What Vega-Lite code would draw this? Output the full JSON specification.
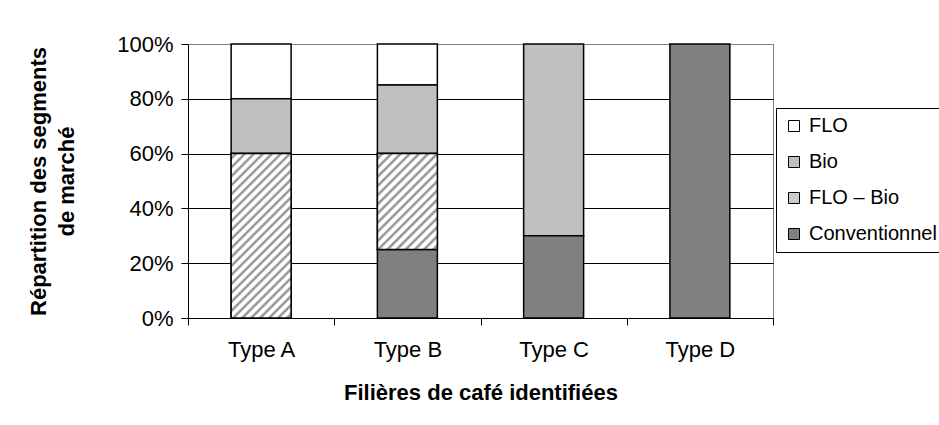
{
  "$schema": "https://vega.github.io/schema/vega-lite/v6.json",
  "width": 585,
  "height": 274,
  "autosize": {"type": "none"},
  "padding": {"left": 188, "top": 44, "right": 166, "bottom": 107},
  "background": "white",
  "data": {
    "values": [
      {"type": "Type A", "seg": "FLO", "v": 0.2, "order": 4},
      {"type": "Type A", "seg": "Bio", "v": 0.2, "order": 3},
      {"type": "Type A", "seg": "FLO – Bio", "v": 0.6, "order": 2},
      {"type": "Type B", "seg": "FLO", "v": 0.15, "order": 4},
      {"type": "Type B", "seg": "Bio", "v": 0.25, "order": 3},
      {"type": "Type B", "seg": "FLO – Bio", "v": 0.35, "order": 2},
      {"type": "Type B", "seg": "Conventionnel", "v": 0.25, "order": 1},
      {"type": "Type C", "seg": "Bio", "v": 0.7, "order": 3},
      {"type": "Type C", "seg": "Conventionnel", "v": 0.3, "order": 1},
      {"type": "Type D", "seg": "Conventionnel", "v": 1.0, "order": 1}
    ]
  },
  "transform": [
    {"stack": "v", "groupby": ["type"], "sort": [{"field": "order", "order": "ascending"}], "as": ["y0", "y1"]}
  ],
  "encoding": {
    "x": {
      "field": "type", "type": "nominal",
      "scale": {"paddingInner": 0, "paddingOuter": 0},
      "axis": {
        "tickBand": "extent", "tickSize": 7, "labelPadding": 14, "labelAngle": 0,
        "title": "Filières de café identifiées", "titlePadding": 22, "grid": false
      }
    },
    "y": {
      "field": "y1", "type": "quantitative",
      "scale": {"domain": [0, 1], "nice": false},
      "axis": {
        "values": [0, 0.2, 0.4, 0.6, 0.8, 1], "format": ".0%", "grid": true,
        "gridColor": {"condition": {"test": "datum.value === 1", "value": "#808080"}, "value": "black"},
        "tickSize": 7, "labelPadding": 8,
        "title": ["Répartition des segments", "de marché"], "titlePadding": 38, "titleLineHeight": 28
      }
    },
    "y2": {"field": "y0"}
  },
  "layer": [
    {
      "mark": {"type": "bar", "width": {"band": 0.41}, "stroke": "black", "strokeWidth": 1.5},
      "encoding": {
        "color": {
          "field": "seg", "type": "nominal",
          "scale": {"domain": ["FLO", "Bio", "FLO – Bio", "Conventionnel"], "range": ["#ffffff", "#c0c0c0", "#cccccc", "#808080"]},
          "legend": {
            "title": null, "orient": "none", "legendX": 588, "legendY": 64,
            "strokeColor": "black", "fillColor": "white", "padding": 8,
            "symbolType": "square", "symbolSize": 121, "symbolStrokeColor": "black", "symbolStrokeWidth": 1,
            "labelFontSize": 20, "labelFont": "Liberation Sans", "labelColor": "black", "labelOffset": 5, "rowPadding": 16
          }
        }
      }
    },
    {
      "transform": [{"filter": "datum.type === 'Type A' && datum.seg === 'FLO – Bio'"}],
      "mark": {
        "type": "bar", "width": {"band": 0.41}, "stroke": "black", "strokeWidth": 1.5,
        "fill": {"gradient": "linear", "x1": 0, "y1": 0, "x2": 0.439, "y2": 1.2045, "stops": [
          {"offset": 0, "color": "#ffffff"},
          {"offset": 0.010, "color": "#ffffff"}, {"offset": 0.018, "color": "#999999"}, {"offset": 0.026, "color": "#999999"}, {"offset": 0.034, "color": "#ffffff"},
          {"offset": 0.050, "color": "#ffffff"}, {"offset": 0.058, "color": "#999999"}, {"offset": 0.066, "color": "#999999"}, {"offset": 0.074, "color": "#ffffff"},
          {"offset": 0.090, "color": "#ffffff"}, {"offset": 0.098, "color": "#999999"}, {"offset": 0.106, "color": "#999999"}, {"offset": 0.114, "color": "#ffffff"},
          {"offset": 0.130, "color": "#ffffff"}, {"offset": 0.138, "color": "#999999"}, {"offset": 0.146, "color": "#999999"}, {"offset": 0.154, "color": "#ffffff"},
          {"offset": 0.170, "color": "#ffffff"}, {"offset": 0.178, "color": "#999999"}, {"offset": 0.186, "color": "#999999"}, {"offset": 0.194, "color": "#ffffff"},
          {"offset": 0.210, "color": "#ffffff"}, {"offset": 0.218, "color": "#999999"}, {"offset": 0.226, "color": "#999999"}, {"offset": 0.234, "color": "#ffffff"},
          {"offset": 0.250, "color": "#ffffff"}, {"offset": 0.258, "color": "#999999"}, {"offset": 0.266, "color": "#999999"}, {"offset": 0.274, "color": "#ffffff"},
          {"offset": 0.290, "color": "#ffffff"}, {"offset": 0.298, "color": "#999999"}, {"offset": 0.306, "color": "#999999"}, {"offset": 0.314, "color": "#ffffff"},
          {"offset": 0.330, "color": "#ffffff"}, {"offset": 0.338, "color": "#999999"}, {"offset": 0.346, "color": "#999999"}, {"offset": 0.354, "color": "#ffffff"},
          {"offset": 0.370, "color": "#ffffff"}, {"offset": 0.378, "color": "#999999"}, {"offset": 0.386, "color": "#999999"}, {"offset": 0.394, "color": "#ffffff"},
          {"offset": 0.410, "color": "#ffffff"}, {"offset": 0.418, "color": "#999999"}, {"offset": 0.426, "color": "#999999"}, {"offset": 0.434, "color": "#ffffff"},
          {"offset": 0.450, "color": "#ffffff"}, {"offset": 0.458, "color": "#999999"}, {"offset": 0.466, "color": "#999999"}, {"offset": 0.474, "color": "#ffffff"},
          {"offset": 0.490, "color": "#ffffff"}, {"offset": 0.498, "color": "#999999"}, {"offset": 0.506, "color": "#999999"}, {"offset": 0.514, "color": "#ffffff"},
          {"offset": 0.530, "color": "#ffffff"}, {"offset": 0.538, "color": "#999999"}, {"offset": 0.546, "color": "#999999"}, {"offset": 0.554, "color": "#ffffff"},
          {"offset": 0.570, "color": "#ffffff"}, {"offset": 0.578, "color": "#999999"}, {"offset": 0.586, "color": "#999999"}, {"offset": 0.594, "color": "#ffffff"},
          {"offset": 0.610, "color": "#ffffff"}, {"offset": 0.618, "color": "#999999"}, {"offset": 0.626, "color": "#999999"}, {"offset": 0.634, "color": "#ffffff"},
          {"offset": 0.650, "color": "#ffffff"}, {"offset": 0.658, "color": "#999999"}, {"offset": 0.666, "color": "#999999"}, {"offset": 0.674, "color": "#ffffff"},
          {"offset": 0.690, "color": "#ffffff"}, {"offset": 0.698, "color": "#999999"}, {"offset": 0.706, "color": "#999999"}, {"offset": 0.714, "color": "#ffffff"},
          {"offset": 0.730, "color": "#ffffff"}, {"offset": 0.738, "color": "#999999"}, {"offset": 0.746, "color": "#999999"}, {"offset": 0.754, "color": "#ffffff"},
          {"offset": 0.770, "color": "#ffffff"}, {"offset": 0.778, "color": "#999999"}, {"offset": 0.786, "color": "#999999"}, {"offset": 0.794, "color": "#ffffff"},
          {"offset": 0.810, "color": "#ffffff"}, {"offset": 0.818, "color": "#999999"}, {"offset": 0.826, "color": "#999999"}, {"offset": 0.834, "color": "#ffffff"},
          {"offset": 0.850, "color": "#ffffff"}, {"offset": 0.858, "color": "#999999"}, {"offset": 0.866, "color": "#999999"}, {"offset": 0.874, "color": "#ffffff"},
          {"offset": 0.890, "color": "#ffffff"}, {"offset": 0.898, "color": "#999999"}, {"offset": 0.906, "color": "#999999"}, {"offset": 0.914, "color": "#ffffff"},
          {"offset": 0.930, "color": "#ffffff"}, {"offset": 0.938, "color": "#999999"}, {"offset": 0.946, "color": "#999999"}, {"offset": 0.954, "color": "#ffffff"},
          {"offset": 0.970, "color": "#ffffff"}, {"offset": 0.978, "color": "#999999"}, {"offset": 0.986, "color": "#999999"}, {"offset": 0.994, "color": "#ffffff"},
          {"offset": 1, "color": "#ffffff"}
        ]}
      }
    },
    {
      "transform": [{"filter": "datum.type === 'Type B' && datum.seg === 'FLO – Bio'"}],
      "mark": {
        "type": "bar", "width": {"band": 0.41}, "stroke": "black", "strokeWidth": 1.5,
        "fill": {"gradient": "linear", "x1": 0, "y1": 0, "x2": 0.731, "y2": 1.1683, "stops": [
          {"offset": 0, "color": "#ffffff"},
          {"offset": 0.0147, "color": "#ffffff"}, {"offset": 0.0265, "color": "#999999"}, {"offset": 0.0382, "color": "#999999"}, {"offset": 0.0500, "color": "#ffffff"},
          {"offset": 0.0735, "color": "#ffffff"}, {"offset": 0.0853, "color": "#999999"}, {"offset": 0.0970, "color": "#999999"}, {"offset": 0.1088, "color": "#ffffff"},
          {"offset": 0.1323, "color": "#ffffff"}, {"offset": 0.1441, "color": "#999999"}, {"offset": 0.1558, "color": "#999999"}, {"offset": 0.1676, "color": "#ffffff"},
          {"offset": 0.1912, "color": "#ffffff"}, {"offset": 0.2030, "color": "#999999"}, {"offset": 0.2147, "color": "#999999"}, {"offset": 0.2265, "color": "#ffffff"},
          {"offset": 0.2500, "color": "#ffffff"}, {"offset": 0.2618, "color": "#999999"}, {"offset": 0.2735, "color": "#999999"}, {"offset": 0.2853, "color": "#ffffff"},
          {"offset": 0.3088, "color": "#ffffff"}, {"offset": 0.3206, "color": "#999999"}, {"offset": 0.3323, "color": "#999999"}, {"offset": 0.3441, "color": "#ffffff"},
          {"offset": 0.3676, "color": "#ffffff"}, {"offset": 0.3794, "color": "#999999"}, {"offset": 0.3911, "color": "#999999"}, {"offset": 0.4029, "color": "#ffffff"},
          {"offset": 0.4265, "color": "#ffffff"}, {"offset": 0.4383, "color": "#999999"}, {"offset": 0.4500, "color": "#999999"}, {"offset": 0.4618, "color": "#ffffff"},
          {"offset": 0.4853, "color": "#ffffff"}, {"offset": 0.4971, "color": "#999999"}, {"offset": 0.5088, "color": "#999999"}, {"offset": 0.5206, "color": "#ffffff"},
          {"offset": 0.5441, "color": "#ffffff"}, {"offset": 0.5559, "color": "#999999"}, {"offset": 0.5676, "color": "#999999"}, {"offset": 0.5794, "color": "#ffffff"},
          {"offset": 0.6029, "color": "#ffffff"}, {"offset": 0.6147, "color": "#999999"}, {"offset": 0.6264, "color": "#999999"}, {"offset": 0.6382, "color": "#ffffff"},
          {"offset": 0.6618, "color": "#ffffff"}, {"offset": 0.6736, "color": "#999999"}, {"offset": 0.6853, "color": "#999999"}, {"offset": 0.6971, "color": "#ffffff"},
          {"offset": 0.7206, "color": "#ffffff"}, {"offset": 0.7324, "color": "#999999"}, {"offset": 0.7441, "color": "#999999"}, {"offset": 0.7559, "color": "#ffffff"},
          {"offset": 0.7794, "color": "#ffffff"}, {"offset": 0.7912, "color": "#999999"}, {"offset": 0.8029, "color": "#999999"}, {"offset": 0.8147, "color": "#ffffff"},
          {"offset": 0.8382, "color": "#ffffff"}, {"offset": 0.8500, "color": "#999999"}, {"offset": 0.8617, "color": "#999999"}, {"offset": 0.8735, "color": "#ffffff"},
          {"offset": 0.8971, "color": "#ffffff"}, {"offset": 0.9089, "color": "#999999"}, {"offset": 0.9206, "color": "#999999"}, {"offset": 0.9324, "color": "#ffffff"},
          {"offset": 0.9559, "color": "#ffffff"}, {"offset": 0.9677, "color": "#999999"}, {"offset": 0.9794, "color": "#999999"}, {"offset": 0.9912, "color": "#ffffff"},
          {"offset": 1, "color": "#ffffff"}
        ]}
      }
    }
  ],
  "config": {
    "view": {"stroke": "#808080", "strokeWidth": 1},
    "font": "Liberation Sans",
    "axis": {
      "labelFont": "Liberation Sans", "labelFontSize": 22, "labelColor": "black",
      "titleFont": "Liberation Sans", "titleFontSize": 22, "titleFontWeight": "bold", "titleColor": "black",
      "domainColor": "black", "tickColor": "black", "domainWidth": 1, "tickWidth": 1, "gridWidth": 1
    }
  }
}
